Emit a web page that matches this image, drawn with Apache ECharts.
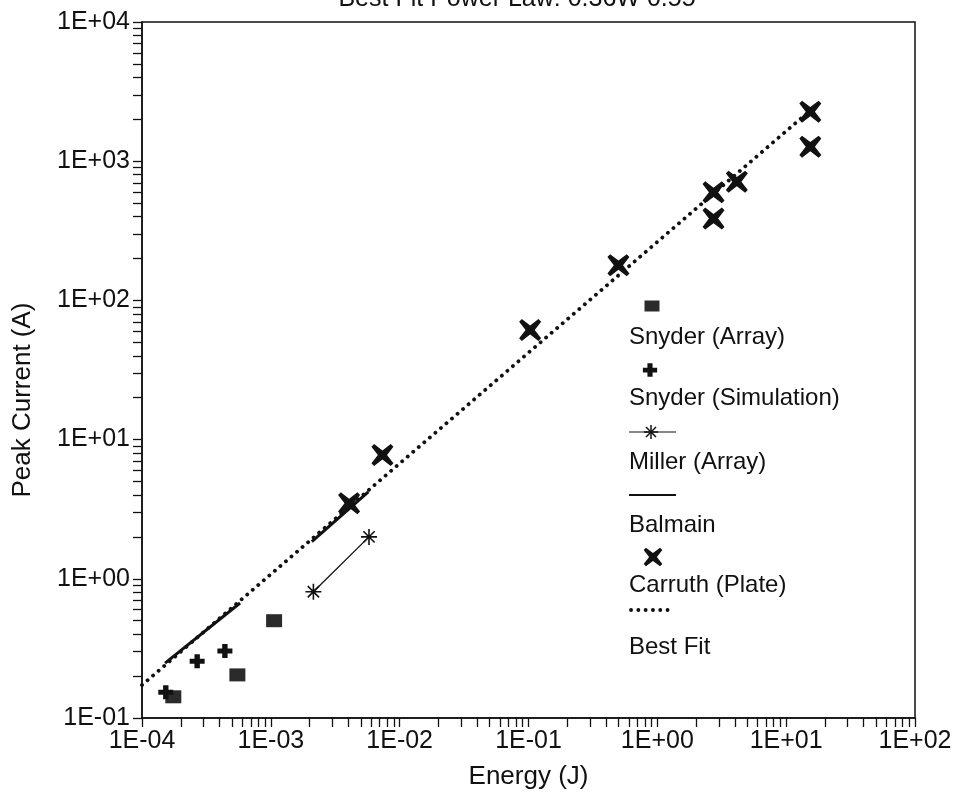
<!DOCTYPE html>
<html>
<head>
<meta charset="utf-8">
<script src="https://cdn.jsdelivr.net/npm/echarts@6/dist/echarts.min.js"></script>
<style>
  html, body { margin: 0; padding: 0; background: #fff; }
  #chart { width: 957px; height: 792px; }
</style>
</head>
<body>
<div id="chart"></div>
<script>
// Energy (J) / peak current (A) observations
const snyderArrayE = [1.75e-4, 5.5e-4, 1.06e-3];
const snyderArrayI = [0.142, 0.204, 0.50];

const snyderSimE = [1.53e-4, 2.68e-4, 4.4e-4];
const snyderSimI = [0.153, 0.256, 0.303];

const millerE = [2.14e-3, 5.78e-3];
const millerI = [0.807, 2.0];

const balmainLowE = [1.51e-4, 5.77e-4];
const balmainLowI = [0.248, 0.67];
const balmainHighE = [2.08e-3, 5.71e-3];
const balmainHighI = [1.85, 4.22];

const carruthE = [4.05e-3, 7.35e-3, 0.103, 0.499, 2.73, 2.73, 4.14, 15.4, 15.4];
const carruthI = [3.49, 7.75, 61.3, 179, 598, 387, 713, 2268, 1271];

const fitE = [1e-4, 14];
const fitI = [0.1726, 2150];

// Axis decades
const energyDecades = [1e-4, 1e-3, 1e-2, 1e-1, 1e0, 1e1, 1e2];
const currentDecades = [1e-1, 1e0, 1e1, 1e2, 1e3, 1e4];

const titleText = 'Best Fit Power Law: 0.36W 0.55';

const ink = '#111';
const FONT = '"Liberation Sans", Arial, sans-serif';

function pairs(xs, ys) { return xs.map((x, i) => [x, ys[i]]); }

// 1, 2, ..., 9 within each decade for the log tick marks
function logTicks(decades) {
  const out = [];
  for (let i = 0; i < decades.length - 1; i++) {
    for (let m = 1; m <= 9; m++) out.push(m * decades[i]);
  }
  out.push(decades[decades.length - 1]);
  return out;
}

function sciLabel(v) {
  const e = Math.round(Math.log10(v));
  return '1E' + (e < 0 ? '-' : '+') + String(Math.abs(e)).padStart(2, '0');
}

// Marker outlines (unit coordinates around 0,0)
const xPts = [[-11,-8.3],[-8.3,-11],[0,-4.6],[8.3,-11],[11,-8.3],[4.6,0],[11,8.3],[8.3,11],[0,4.6],[-8.3,11],[-11,8.3],[-4.6,0]];
const plusPts = [[-2.7,-7],[2.7,-7],[2.7,-2.5],[7.5,-2.5],[7.5,2.5],[2.7,2.5],[2.7,7],[-2.7,7],[-2.7,2.5],[-7.5,2.5],[-7.5,-2.5],[-2.7,-2.5]];

function toPath(pts) {
  return 'path://' + pts.map((p, i) => (i ? 'L' : 'M') + p[0] + ',' + p[1]).join(' ') + ' Z';
}
const starPath =
  'path://M-8,-0.8 L8,-0.8 L8,0.8 L-8,0.8 Z ' +
  'M0.8,-8 L0.8,8 L-0.8,8 L-0.8,-8 Z ' +
  'M-6.22,-5.09 L-5.09,-6.22 L6.22,5.09 L5.09,6.22 Z ' +
  'M-5.09,6.22 L-6.22,5.09 L5.09,-6.22 L6.22,-5.09 Z';

function placed(pts, cx, cy, k) {
  return pts.map(p => [cx + p[0] * k, cy + p[1] * k]);
}

const chart = echarts.init(document.getElementById('chart'), null, { renderer: 'canvas' });

const axisCommon = {
  type: 'log',
  logBase: 10,
  axisLine: { show: true, lineStyle: { color: ink, width: 1.5 } },
  splitLine: { show: false },
  minorTick: { show: false }
};

// Legend: symbol drawn above each label
const legendX = 629;
const legendItems = [
  { name: 'Snyder (Array)', y: 337 },
  { name: 'Snyder (Simulation)', y: 398 },
  { name: 'Miller (Array)', y: 462 },
  { name: 'Balmain', y: 525 },
  { name: 'Carruth (Plate)', y: 585 },
  { name: 'Best Fit', y: 647 }
];
const legendGraphics = legendItems.map(it => ({
  type: 'text', x: legendX, y: it.y,
  style: { text: it.name, fill: ink, font: '24px ' + FONT, verticalAlign: 'middle' }
}));
const starArms = [[-7, 0, 7, 0], [0, -7, 0, 7], [-5, -5, 5, 5], [-5, 5, 5, -5]];
legendGraphics.push(
  { type: 'rect', shape: { x: 644.5, y: 300.5, width: 15, height: 11 }, style: { fill: '#2b2b2b' } },
  { type: 'polygon', shape: { points: placed(plusPts, 650, 370, 0.95) }, style: { fill: ink } },
  { type: 'line', shape: { x1: 629, y1: 432, x2: 676, y2: 432 }, style: { stroke: ink, lineWidth: 1.2 } },
  ...starArms.map(a => ({ type: 'line', shape: { x1: 651 + a[0], y1: 432 + a[1], x2: 651 + a[2], y2: 432 + a[3] },
    style: { stroke: ink, lineWidth: 1.5 } })),
  { type: 'line', shape: { x1: 629, y1: 495, x2: 676, y2: 495 }, style: { stroke: ink, lineWidth: 2 } },
  { type: 'polygon', shape: { points: placed(xPts, 653, 557, 0.85) }, style: { fill: ink } },
  { type: 'line', shape: { x1: 631, y1: 610, x2: 672, y2: 610 },
    style: { stroke: ink, lineWidth: 3.8, lineDash: [0.1, 7.2], lineCap: 'round' } }
);

const option = {
  backgroundColor: '#fff',
  animation: false,
  title: {
    text: titleText,
    left: 512, top: -18,
    textAlign: 'center',
    textStyle: { color: ink, fontFamily: FONT, fontSize: 25, fontWeight: 'normal' }
  },
  grid: {
    left: 142, right: 42, top: 22, bottom: 74,
    outerBoundsMode: 'none',
    containLabel: false,
    show: true, borderColor: ink, borderWidth: 1.5, backgroundColor: 'transparent'
  },
  xAxis: Object.assign({}, axisCommon, {
    min: energyDecades[0], max: energyDecades[energyDecades.length - 1],
    name: 'Energy (J)', nameLocation: 'middle', nameGap: 46,
    nameTextStyle: { color: ink, fontFamily: FONT, fontSize: 26 },
    axisTick: { show: true, inside: false, length: 9, customValues: logTicks(energyDecades),
      lineStyle: { color: ink, width: 1.3 } },
    axisLabel: { customValues: energyDecades, formatter: sciLabel, color: ink,
      fontFamily: FONT, fontSize: 25, margin: 11 }
  }),
  yAxis: Object.assign({}, axisCommon, {
    min: currentDecades[0], max: currentDecades[currentDecades.length - 1],
    name: 'Peak Current (A)', nameLocation: 'middle', nameGap: 106, nameRotate: 90,
    nameTextStyle: { color: ink, fontFamily: FONT, fontSize: 26, padding: [0, 60, 0, 0] },
    axisTick: { show: true, inside: false, length: 9, customValues: logTicks(currentDecades),
      lineStyle: { color: ink, width: 1.3 } },
    axisLabel: { customValues: currentDecades, formatter: sciLabel, color: ink,
      fontFamily: FONT, fontSize: 25, margin: 12 }
  }),
  graphic: legendGraphics,
  series: [
    {
      name: 'Best Fit', type: 'line', data: pairs(fitE, fitI),
      showSymbol: false, z: 2,
      lineStyle: { color: ink, width: 3.8, type: [0.1, 7.2], cap: 'round' }
    },
    {
      name: 'Balmain', type: 'line', data: pairs(balmainLowE, balmainLowI),
      showSymbol: false, z: 3, lineStyle: { color: ink, width: 3 }
    },
    {
      name: 'Balmain', type: 'line', data: pairs(balmainHighE, balmainHighI),
      showSymbol: false, z: 3, lineStyle: { color: ink, width: 3 }
    },
    {
      name: 'Miller (Array)', type: 'line', data: pairs(millerE, millerI),
      symbol: starPath, symbolSize: 16, z: 4,
      itemStyle: { color: ink }, lineStyle: { color: ink, width: 1.3 }
    },
    {
      name: 'Snyder (Array)', type: 'scatter', data: pairs(snyderArrayE, snyderArrayI),
      symbol: 'rect', symbolSize: [16, 13], z: 4,
      itemStyle: { color: '#2b2b2b', opacity: 1 }
    },
    {
      name: 'Snyder (Simulation)', type: 'scatter', data: pairs(snyderSimE, snyderSimI),
      symbol: toPath(plusPts), symbolSize: [15, 14], z: 5,
      itemStyle: { color: ink, opacity: 1 }
    },
    {
      name: 'Carruth (Plate)', type: 'scatter', data: pairs(carruthE, carruthI),
      symbol: toPath(xPts), symbolSize: 22, z: 5,
      itemStyle: { color: ink, opacity: 1 }
    }
  ]
};

chart.setOption(option);
</script>
</body>
</html>
